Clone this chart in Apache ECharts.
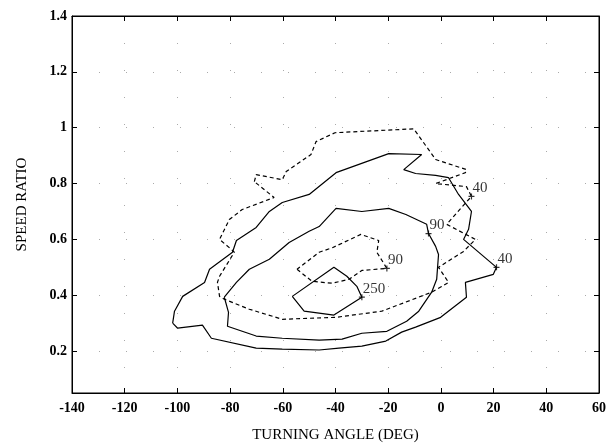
<!DOCTYPE html>
<html>
<head>
<meta charset="utf-8">
<title>Speed ratio vs turning angle</title>
<script src="https://cdn.jsdelivr.net/npm/echarts@6/dist/echarts.min.js"></script>
<style>
  html, body { margin: 0; padding: 0; background: #fff; }
  #chart { width: 609px; height: 448px; }
</style>
</head>
<body>
<div id="chart"></div>
<script>
// axis ticks
var xTicks = [-140, -120, -100, -80, -60, -40, -20, 0, 20, 40, 60];
var yTicks = [0.2, 0.4, 0.6, 0.8, 1, 1.2, 1.4];

// solid contours [turning angle, speed ratio]
var solid40 = [
  [-101.8, 0.300], [-101.1, 0.343], [-98.0, 0.396], [-89.7, 0.446], [-87.8, 0.493],
  [-79.1, 0.554], [-77.6, 0.596], [-70.1, 0.643], [-65.1, 0.700], [-60.2, 0.732],
  [-50.0, 0.761], [-39.8, 0.839], [-19.8, 0.907], [-7.3, 0.904], [-14.1, 0.850],
  [-9.6, 0.836], [-2.0, 0.829], [2.9, 0.821], [6.7, 0.761], [11.6, 0.700],
  [10.5, 0.636], [8.6, 0.600], [21.1, 0.500], [19.9, 0.475], [9.3, 0.446],
  [9.7, 0.393], [-0.1, 0.321], [-9.6, 0.286], [-14.9, 0.268], [-20.9, 0.236],
  [-30.0, 0.218], [-38.7, 0.211], [-46.2, 0.204], [-60.2, 0.207], [-70.1, 0.211],
  [-87.1, 0.246], [-90.5, 0.293], [-99.9, 0.282]
];
var solid90 = [
  [-82.2, 0.393], [-80.6, 0.339], [-81.0, 0.289], [-70.1, 0.254], [-60.2, 0.246],
  [-46.2, 0.239], [-37.5, 0.243], [-30.0, 0.264], [-20.5, 0.271], [-13.0, 0.307],
  [-8.4, 0.343], [-3.5, 0.411], [-1.6, 0.457], [-0.9, 0.546], [-2.0, 0.575],
  [-4.7, 0.621], [-5.4, 0.654], [-13.3, 0.689], [-19.8, 0.711], [-30.0, 0.700],
  [-39.8, 0.711], [-46.2, 0.646], [-50.0, 0.629], [-57.6, 0.589], [-65.1, 0.529],
  [-72.7, 0.493], [-77.6, 0.446]
];
var solid250 = [
  [-56.4, 0.396], [-40.6, 0.500], [-35.7, 0.468], [-31.9, 0.432], [-30.0, 0.393],
  [-40.6, 0.329], [-51.9, 0.343]
];

// dashed contours
var dashed40 = [
  [-70.8, 0.807], [-70.1, 0.832], [-60.2, 0.814], [-58.7, 0.843], [-49.3, 0.904],
  [-47.4, 0.950], [-40.2, 0.982], [-10.3, 0.996], [-2.0, 0.886], [9.7, 0.850],
  [9.3, 0.839], [-2.0, 0.800], [9.7, 0.789], [11.6, 0.754], [2.2, 0.654],
  [13.1, 0.600], [8.6, 0.557], [-0.9, 0.500], [2.9, 0.446], [-3.5, 0.411],
  [-22.4, 0.343], [-39.8, 0.321], [-60.2, 0.314], [-72.7, 0.350], [-82.2, 0.386],
  [-84.0, 0.396], [-84.8, 0.446], [-84.0, 0.468], [-78.4, 0.554], [-79.5, 0.564],
  [-84.0, 0.600], [-80.3, 0.671], [-75.4, 0.707], [-63.3, 0.750]
];
var dashed90 = [
  [-54.6, 0.493], [-48.9, 0.450], [-41.3, 0.443], [-34.9, 0.457], [-30.0, 0.489],
  [-20.5, 0.496], [-24.3, 0.554], [-23.6, 0.596], [-30.4, 0.618], [-41.0, 0.571],
  [-46.2, 0.554]
];

// contour level labels (clabel points)
var labelPoints = [[11.6, 0.754], [-4.7, 0.621], [-20.5, 0.496], [-30.0, 0.393], [21.1, 0.500]];
var labelTexts = ['40', '90', '90', '250', '40'];

var serif = "'Liberation Serif', 'Times New Roman', serif";

function closed(pts) {
  return pts.concat([pts[0]]);
}

function contour(pts, dashed) {
  return {
    type: 'line',
    data: closed(pts),
    showSymbol: false,
    symbol: 'none',
    silent: true,
    z: 3,
    lineStyle: { color: '#000', width: 1.2, type: dashed ? [4, 3] : 'solid' }
  };
}

var tickStyle = { inside: true, length: 5, lineStyle: { color: '#000', width: 1 } };
var yTickStyle = { inside: true, length: 5, lineStyle: { color: '#000', width: 1 }, customValues: yTicks };
var lineBlack = { onZero: false, lineStyle: { color: '#000', width: 1 } };
var gridDots = { show: true, lineStyle: { color: '#aaa', width: 1, type: [1, 26] } };

var chart = echarts.init(document.getElementById('chart'));

chart.setOption({
  animation: false,
  backgroundColor: '#fff',
  grid: { left: 72, right: 8, top: 16, bottom: 54, show: true, borderColor: '#000', borderWidth: 1 },
  xAxis: [{
    type: 'value', min: -140, max: 60, interval: 20,
    name: 'TURNING ANGLE (DEG)', nameLocation: 'middle', nameGap: 35,
    nameTextStyle: { fontFamily: serif, fontSize: 15, color: '#000' },
    axisLine: lineBlack,
    axisTick: tickStyle,
    axisLabel: { fontFamily: serif, fontSize: 14, fontWeight: 'bold', color: '#000', margin: 8 },
    splitLine: gridDots
  }, {
    type: 'value', min: -140, max: 60, interval: 20, position: 'top',
    axisLine: lineBlack,
    axisTick: tickStyle,
    axisLabel: { show: false },
    splitLine: { show: false }
  }],
  yAxis: [{
    type: 'value', min: 0.05, max: 1.4, splitNumber: 7,
    name: 'SPEED RATIO', nameLocation: 'middle', nameGap: 42,
    nameTextStyle: { fontFamily: serif, fontSize: 15, color: '#000' },
    axisLine: lineBlack,
    axisTick: yTickStyle,
    axisLabel: { fontFamily: serif, fontSize: 14, fontWeight: 'bold', color: '#000', margin: 5, customValues: yTicks },
    splitLine: gridDots
  }, {
    type: 'value', min: 0.05, max: 1.4, splitNumber: 7, position: 'right',
    axisLine: lineBlack,
    axisTick: yTickStyle,
    axisLabel: { show: false },
    splitLine: { show: false }
  }],
  series: [
    contour(solid40, false),
    contour(solid90, false),
    contour(solid250, false),
    contour(dashed40, true),
    contour(dashed90, true),
    {
      type: 'scatter',
      silent: true,
      z: 5,
      symbol: 'path://M4,0H6V4H10V6H6V10H4V6H0V4H4Z',
      symbolSize: 6,
      itemStyle: { color: '#000' },
      data: labelPoints.map(function (p, i) { return { value: p, name: labelTexts[i] }; }),
      label: {
        show: true, position: 'right', distance: 0, offset: [-2, -8],
        formatter: '{b}', fontFamily: serif, fontSize: 15, color: '#000'
      }
    }
  ]
});
</script>
</body>
</html>
